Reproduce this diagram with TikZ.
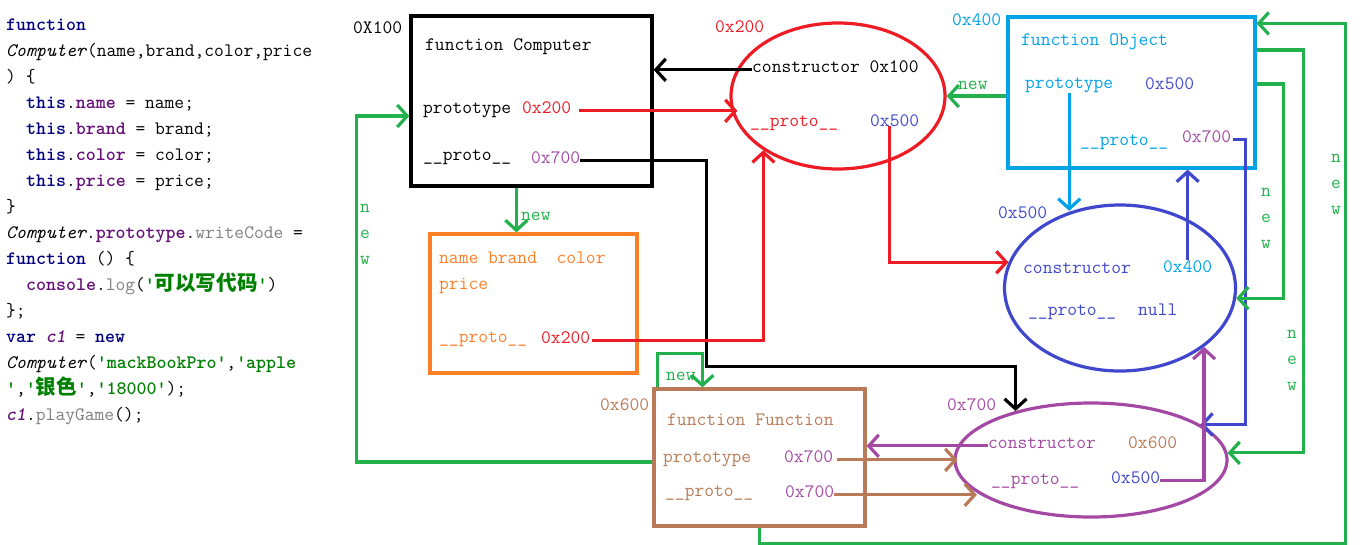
\documentclass[tikz,border=0pt]{standalone}
\usepackage{fontspec}
\usepackage{xcolor}
\usepackage{tikz}
\usetikzlibrary{shapes.geometric,arrows.meta,positioning,calc}
\newfontfamily\cjk{Noto Sans CJK SC}[Scale=1.08]
\definecolor{pred}{HTML}{ED1C24}
\definecolor{pgreen}{HTML}{22B14C}
\definecolor{porange}{HTML}{FF7F27}
\definecolor{pcyan}{HTML}{00A2E8}
\definecolor{pblue}{HTML}{3F48CC}
\definecolor{ppurple}{HTML}{A349A4}
\definecolor{pbrown}{HTML}{B97A57}
\definecolor{kwnavy}{HTML}{000080}
\definecolor{kwpurple}{HTML}{660E7A}
\definecolor{kwgreen}{HTML}{008000}
\definecolor{kwgray}{HTML}{7F7F7F}
\newcommand{\kw}[1]{\textcolor{kwnavy}{\bfseries #1}}
\newcommand{\fld}[1]{\textcolor{kwpurple}{\bfseries #1}}
\newcommand{\strg}[1]{\textcolor{kwgreen}{\bfseries #1}}
\newcommand{\mth}[1]{\textcolor{kwgray}{#1}}

\begin{document}
\begin{tikzpicture}[x=1pt, y=-1pt,
    every node/.style={font=\ttfamily\fontsize{19}{26}\selectfont, inner sep=0pt},
    txt/.style={anchor=base west},
    box/.style={draw, line width=3.2pt},
    oval/.style={draw, ellipse, line width=3.2pt},
    link/.style={line width=3.2pt, -{Straight Barb[length=10pt,width=22pt]}},
    newv/.style={align=center, text=pgreen}]
    \useasboundingbox (0,0) rectangle (1360,544);

    % code
    \node[txt] (l1) at (6,30) {\kw{function}};
    \node[txt] (l2) at (6,56) {\textit{Computer}(name,brand,color,price};
    \node[txt] (l3) at (6,82) {) \{};
    \node[txt] (l4) at (26,108) {\kw{this}.\fld{name} = name;};
    \node[txt] (l5) at (26,134) {\kw{this}.\fld{brand} = brand;};
    \node[txt] (l6) at (26,160) {\kw{this}.\fld{color} = color;};
    \node[txt] (l7) at (26,186) {\kw{this}.\fld{price} = price;};
    \node[txt] (l8) at (6,212) {\}};
    \node[txt] (l9) at (6,238) {\textit{Computer}.\fld{prototype}.\mth{writeCode} =};
    \node[txt] (l10) at (6,264) {\kw{function} () \{};
    \node[txt] (l11) at (26,290) {\fld{console}.\mth{log}(\strg{'{\cjk 可以写代码}'})};
    \node[txt] (l12) at (6,316) {\};};
    \node[txt] (l13) at (6,342) {\kw{var} \fld{\itshape c1} = \kw{new}};
    \node[txt] (l14) at (6,368) {\textit{Computer}(\strg{'mackBookPro'},\strg{'apple}};
    \node[txt] (l15) at (6,394) {\strg{'},\strg{'{\cjk 银色}'},\strg{'18000'});};
    \node[txt] (l16) at (6,420) {\fld{\itshape c1}.\mth{playGame}();};

    % boxes and prototypes
    \node[box, minimum width=241pt, minimum height=170pt] (comp) at (531.5,101) {};
    \node[box, draw=pcyan, minimum width=247pt, minimum height=151pt] (obj) at (1131.5,92.5) {};
    \node[box, draw=porange, minimum width=207pt, minimum height=139pt] (inst) at (533.5,303.5) {};
    \node[box, draw=pbrown, minimum width=211pt, minimum height=137pt] (func) at (759.5,457.5) {};
    \node[oval, draw=pred, minimum width=214pt, minimum height=146pt] (pcomp) at (838,96) {};
    \node[oval, draw=pblue, minimum width=231pt, minimum height=166pt] (pobj) at (1120,288) {};
    \node[oval, draw=ppurple, minimum width=272pt, minimum height=114pt] (pfunc) at (1091,460) {};

    % function Computer
    \node[txt] (a100) at (353,33) {0X100};
    \node[txt] (cname) at (425,50) {function Computer};
    \node[txt] (cptype) at (423,113) {prototype};
    \node[txt, text=pred] (c200) at (522,113) {0x200};
    \node[txt] (cprt) at (423,160) {\_\_proto\_\_};
    \node[txt, text=ppurple] (c700) at (531,163) {0x700};

    % Computer.prototype
    \node[txt, text=pred] (a200) at (715,32) {0x200};
    \node[txt] (pccons) at (752,72) {constructor 0x100};
    \node[txt, text=pred] (pcprt) at (750,126) {\_\_proto\_\_};
    \node[txt, text=pblue] (pc500) at (870,126) {0x500};
    \node[txt, text=pgreen] (new1) at (958,89) {new};

    % function Object
    \node[txt, text=pcyan] (a400) at (952,25) {0x400};
    \node[txt, text=pcyan] (oname) at (1021,45) {function Object};
    \node[txt, text=pcyan] (optype) at (1025,88) {prototype};
    \node[txt, text=pblue] (o500) at (1145,89) {0x500};
    \node[txt, text=pcyan] (oprt) at (1080,145) {\_\_proto\_\_};
    \node[txt, text=ppurple] (o700) at (1182,142) {0x700};

    % c1
    \node[txt, text=pgreen] (new2) at (521,220) {new};
    \node[txt, text=porange] (ifld) at (439,263) {name brand\ \ color};
    \node[txt, text=porange] (iprice) at (439,289) {price};
    \node[txt, text=porange] (iprt) at (439,342) {\_\_proto\_\_};
    \node[txt, text=pred] (i200) at (541,343) {0x200};

    % Object.prototype
    \node[txt, text=pblue] (a500) at (998,218) {0x500};
    \node[txt, text=pblue] (pocons) at (1023,273) {constructor};
    \node[txt, text=pcyan] (po400) at (1163,272) {0x400};
    \node[txt, text=pblue] (poprt) at (1028,315) {\_\_proto\_\_};
    \node[txt, text=pblue] (ponull) at (1138,315) {null};

    % function Function
    \node[txt, text=pgreen] (new3) at (666,380) {new};
    \node[txt, text=pbrown] (a600) at (600,410) {0x600};
    \node[txt, text=pbrown] (fname) at (667,425) {function Function};
    \node[txt, text=pbrown] (fptype) at (663,462) {prototype};
    \node[txt, text=ppurple] (f700a) at (784,462) {0x700};
    \node[txt, text=pbrown] (fprt) at (665,496) {\_\_proto\_\_};
    \node[txt, text=ppurple] (f700b) at (785,497) {0x700};

    % Function.prototype
    \node[txt, text=ppurple] (a700) at (947,410) {0x700};
    \node[txt, text=ppurple] (pfcons) at (988,448) {constructor};
    \node[txt, text=pbrown] (pf600) at (1128,448) {0x600};
    \node[txt, text=ppurple] (pfprt) at (991,484) {\_\_proto\_\_};
    \node[txt, text=pblue] (pf500) at (1111,483) {0x500};

    \node[newv] (nv1) at (365,234) {n\\e\\w};
    \node[newv] (nv2) at (1266,218) {n\\e\\w};
    \node[newv] (nv3) at (1292,360) {n\\e\\w};
    \node[newv] (nv4) at (1336,184) {n\\e\\w};

    % links
    \draw[link, pred] ([xshift=8pt]c200.mid east) -- ([xshift=8pt]c200.mid east -| pcomp.west);
    \draw[link] (pccons.mid west) -- (pccons.mid west -| comp.east);
    \draw[link] (c700.mid east) -- ++(126,0) -- ++(0,206) -| (pfunc.147);
    \draw[link, pgreen] ([xshift=107pt]comp.south west) -- ([xshift=107pt]comp.south west |- inst.north);
    \draw[link, pred] ([xshift=-5pt]pc500.south) |- (pobj.167);
    \draw[link, pred] ([xshift=2pt]i200.mid east) -| (pcomp.216);
    \draw[link, pgreen] (obj.west |- pcomp.east) -- (pcomp.east);
    \draw[link, pcyan] (optype.south) -- (optype.south |- pobj.122);
    \draw[link, pblue] (po400.north) -- (po400.north |- obj.south);
    \draw[link, pblue] ([xshift=2pt]o700.mid east) -- ++(12,0) |- (pfunc.18);
    \draw[link, pgreen] ([yshift=8.5pt]obj.east) -- ++(27,0) |- (pobj.-5);
    \draw[link, pgreen] ([yshift=42.5pt]obj.east) -- ++(47,0) |- (pfunc.3);
    \draw[link, pgreen] (func.south) -- ++(0,16) -- ++(586,0) |- ([yshift=-8pt]obj.north east);
    \draw[link, pgreen] ([yshift=-4.5pt]func.west) -- ++(-296,0) |- ([yshift=-15pt]comp.west);
    \draw[link, pgreen] ([xshift=5pt]func.north west) -- ++(0,-34) -| ([xshift=50pt]func.north west);
    \draw[link, pbrown] ([xshift=4pt]f700a.mid east) -- ([xshift=4pt]f700a.mid east -| pfunc.west);
    \draw[link, pbrown] (f700b.mid east) -- (f700b.mid east -| pfunc.196);
    \draw[link, ppurple] (pfcons.mid west) -- (pfcons.mid west -| func.east);
    \draw[link, ppurple] (pf500.mid east) -| (pobj.-35);
\end{tikzpicture}
\end{document}
